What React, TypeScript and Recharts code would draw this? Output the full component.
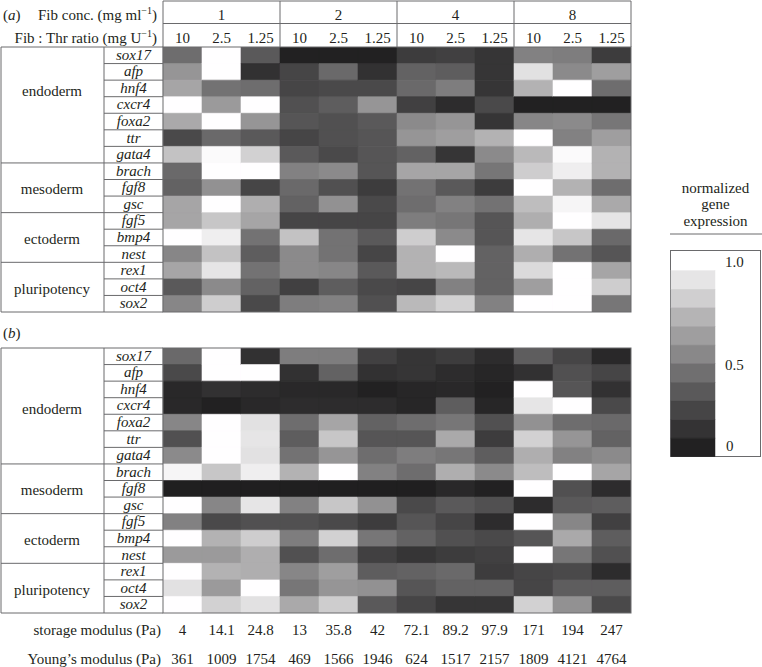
import { BarChart, Bar, XAxis, YAxis, Cell } from 'recharts';

const genes = ['sox17', 'afp', 'hnf4', 'cxcr4', 'foxa2', 'ttr', 'gata4', 'brach', 'fgf8', 'gsc', 'fgf5', 'bmp4', 'nest', 'rex1', 'oct4', 'sox2'];
const groupNames = ['endoderm', 'mesoderm', 'ectoderm', 'pluripotency'];
const groupSizes = [7, 3, 3, 3];
const fibConc = ['1', '2', '4', '8'];
const fibThrRatio = ['10', '2.5', '1.25'];
const storageModulus = ['4', '14.1', '24.8', '13', '35.8', '42', '72.1', '89.2', '97.9', '171', '194', '247'];
const youngsModulus = ['361', '1009', '1754', '469', '1566', '1946', '624', '1517', '2157', '1809', '4121', '4764'];
const legendTicks = ['1.0', '0.5', '0'];
const legendLevels = [0.89, 0.79, 0.67, 0.57, 0.47, 0.36, 0.26, 0.17, 0.09, 0.01];

// normalized gene expression, rows = genes, cols = conc x ratio
const exprA = [
    [0.35, 1, 0.26, 0.01, 0.01, 0.01, 0.13, 0.15, 0.1, 0.44, 0.42, 0.13],
    [0.53, 1, 0.08, 0.17, 0.33, 0.08, 0.3, 0.28, 0.1, 0.87, 0.48, 0.57],
    [0.6, 0.37, 0.35, 0.17, 0.19, 0.19, 0.33, 0.42, 0.1, 0.66, 1, 0.35],
    [1, 0.55, 1, 0.22, 0.28, 0.53, 0.15, 0.06, 0.19, 0.01, 0.01, 0.01],
    [0.62, 1, 0.53, 0.24, 0.22, 0.26, 0.48, 0.53, 0.1, 0.46, 0.48, 0.39],
    [0.19, 0.33, 0.26, 0.17, 0.22, 0.24, 0.53, 0.57, 0.66, 1, 0.44, 0.57],
    [0.73, 0.98, 0.8, 0.26, 0.19, 0.24, 0.3, 0.1, 0.48, 0.69, 0.98, 0.66],
    [0.33, 1, 1, 0.44, 0.48, 0.24, 0.6, 0.6, 0.39, 0.78, 0.93, 0.66],
    [0.3, 0.51, 0.17, 0.33, 0.22, 0.13, 0.37, 0.26, 0.13, 1, 0.66, 0.35],
    [0.6, 1, 0.64, 0.3, 0.51, 0.19, 0.35, 0.44, 0.37, 0.71, 0.96, 0.62],
    [0.6, 0.75, 0.6, 0.17, 0.17, 0.17, 0.42, 0.39, 0.24, 0.64, 1, 0.89],
    [1, 0.93, 0.37, 0.73, 0.37, 0.26, 0.78, 0.48, 0.24, 0.89, 0.75, 0.33],
    [0.46, 0.73, 0.28, 0.48, 0.37, 0.17, 0.66, 1, 0.3, 0.64, 0.37, 0.24],
    [0.6, 0.89, 0.37, 0.48, 0.46, 0.26, 0.66, 0.69, 0.3, 0.84, 1, 0.6],
    [0.26, 0.48, 0.3, 0.15, 0.28, 0.19, 0.17, 0.44, 0.3, 0.57, 1, 0.78],
    [0.46, 0.78, 0.19, 0.42, 0.44, 0.22, 0.69, 0.8, 0.44, 1, 1, 0.39],
];

const exprB = [
    [0.33, 1, 0.08, 0.42, 0.42, 0.15, 0.1, 0.13, 0.06, 0.28, 0.17, 0.04],
    [0.19, 1, 1, 0.08, 0.3, 0.08, 0.1, 0.06, 0.03, 0.08, 0.22, 0.17],
    [0.04, 0.08, 0.06, 0.04, 0.04, 0.01, 0.03, 0.04, 0.01, 1, 0.24, 0.08],
    [0.04, 0.01, 0.04, 0.06, 0.06, 0.06, 0.03, 0.28, 0.03, 0.89, 1, 0.19],
    [0.46, 1, 0.87, 0.35, 0.6, 0.3, 0.35, 0.39, 0.22, 0.51, 0.35, 0.33],
    [0.22, 1, 0.89, 0.28, 0.75, 0.24, 0.24, 0.62, 0.13, 0.8, 0.53, 0.3],
    [0.48, 1, 0.87, 0.37, 0.53, 0.35, 0.42, 0.39, 0.28, 0.64, 0.44, 0.48],
    [0.96, 0.75, 0.93, 0.66, 1, 0.44, 0.35, 0.64, 0.48, 0.71, 1, 0.6],
    [0, 0, 0, 0, 0, 0, 0, 0.04, 0.01, 1, 0.22, 0.06],
    [1, 0.46, 0.89, 0.44, 0.75, 0.51, 0.19, 0.26, 0.22, 0.06, 0.26, 0.28],
    [0.44, 0.19, 0.22, 0.22, 0.19, 0.13, 0.24, 0.17, 0.06, 1, 0.46, 0.15],
    [1, 0.66, 0.78, 0.42, 0.8, 0.39, 0.3, 0.22, 0.19, 0.24, 0.62, 0.28],
    [0.55, 0.55, 0.64, 0.22, 0.35, 0.15, 0.1, 0.13, 0.15, 1, 0.39, 0.22],
    [1, 0.66, 0.64, 0.46, 0.57, 0.28, 0.3, 0.33, 0.13, 0.17, 0.19, 0.06],
    [0.87, 0.55, 1, 0.39, 0.53, 0.51, 0.24, 0.3, 0.3, 0.17, 0.28, 0.28],
    [1, 0.8, 0.87, 0.62, 0.78, 0.26, 0.17, 0.1, 0.1, 0.8, 0.51, 0.19],
];

const FONT = '"Liberation Serif", "Times New Roman", "DejaVu Serif", serif';
const INK = '#231f20';
const LINE = '#6a6a6c';

const LEFT = 104; // label column start
const GENE_W = 59;
const MAP_X = LEFT + GENE_W; // 163
const MAP_W = 468;
const MAP_H = 265;
const TOP_A = 47;
const TOP_B = 348;
const COL_W = MAP_W / 12;
const ROW_H = MAP_H / genes.length;

const columns = fibConc.flatMap((c) => fibThrRatio.map((r) => `${c}-${r}`));

const shade = (v: number) => {
    const g = Math.round(32 + v * 223);
    return `rgb(${g},${g - 1},${g})`;
};

const GeneTick = ({ y, payload }: any) => (
    <text x={GENE_W / 2} y={y} dy={4.5} textAnchor="middle" fontStyle="italic" fontSize={15} fontFamily={FONT} fill={INK}>
        {payload.value}
    </text>
);

function Heatmap({ values, top }: { values: number[][]; top: number }) {
    const rows = genes.map((g) => {
        const row: Record<string, any> = { gene: g };
        columns.forEach((_, c) => (row['c' + c] = 1));
        return row;
    });
    return (
        <div style={{ position: 'absolute', left: LEFT, top }}>
            <BarChart
                layout="vertical"
                width={GENE_W + MAP_W}
                height={MAP_H}
                data={rows}
                margin={{ top: 0, right: 0, bottom: 0, left: 0 }}
                barCategoryGap={0}
                barGap={0}
            >
                <XAxis type="number" domain={[0, columns.length]} hide />
                <YAxis type="category" dataKey="gene" width={GENE_W} axisLine={false} tickLine={false} interval={0} tick={<GeneTick />} />
                {columns.map((_, c) => (
                    <Bar key={c} dataKey={'c' + c} stackId="s" isAnimationActive={false}>
                        {values.map((row, r) => (
                            <Cell key={r} fill={shade(row[c])} stroke={shade(row[c])} strokeWidth={0.6} />
                        ))}
                    </Bar>
                ))}
            </BarChart>
        </div>
    );
}

function LabelTable({ top, labelY }: { top: number; labelY: number[] }) {
    const lines = [];
    let start = 0;
    groupSizes.forEach((n, gi) => {
        for (let i = 1; i <= n; i++) {
            const y = top + (start + i) * ROW_H;
            const isGroupEnd = i === n;
            lines.push(<line key={`${gi}-${i}`} x1={isGroupEnd ? 1 : LEFT} x2={MAP_X} y1={y} y2={y} stroke={LINE} strokeWidth={1} />);
        }
        start += n;
    });
    return (
        <g>
            <line x1={1} x2={MAP_X} y1={top} y2={top} stroke={LINE} />
            <line x1={1} x2={1} y1={top} y2={top + MAP_H} stroke={LINE} />
            <line x1={LEFT} x2={LEFT} y1={top} y2={top + MAP_H} stroke={LINE} />
            <rect x={MAP_X} y={top} width={MAP_W} height={MAP_H} fill="none" stroke={LINE} />
            {lines}
            {groupNames.map((g, i) => (
                <text key={g} x={52} y={labelY[i]} textAnchor="middle" fontSize={15} fill={INK}>
                    {g}
                </text>
            ))}
        </g>
    );
}

export default function App() {
    const colX = (i: number) => MAP_X + (i + 0.5) * COL_W;
    return (
        <div style={{ position: 'relative', width: 762, height: 667, background: '#fff', fontFamily: FONT }}>
            <style>{'body{margin:0}'}</style>
            <Heatmap values={exprA} top={TOP_A} />
            <Heatmap values={exprB} top={TOP_B} />
            <svg width={762} height={667} style={{ position: 'absolute', left: 0, top: 0, pointerEvents: 'none' }} fontFamily={FONT}>
                {/* header table */}
                <line x1={MAP_X} x2={MAP_X + MAP_W} y1={1} y2={1} stroke={LINE} />
                <line x1={MAP_X} x2={MAP_X + MAP_W} y1={23.5} y2={23.5} stroke={LINE} />
                {[0, 1, 2, 3, 4].map((i) => (
                    <line key={i} x1={MAP_X + i * 3 * COL_W} x2={MAP_X + i * 3 * COL_W} y1={1} y2={TOP_A} stroke={LINE} />
                ))}
                <text x={3} y={20} fontSize={15} fill={INK}>
                    (<tspan fontStyle="italic">a</tspan>)
                </text>
                <text x={157} y={20} textAnchor="end" fontSize={15} fill={INK}>
                    Fib conc. (mg ml<tspan dy={-6} fontSize={10}>−1</tspan>
                    <tspan dy={6}>)</tspan>
                </text>
                <text x={157} y={43} textAnchor="end" fontSize={15} fill={INK}>
                    Fib : Thr ratio (mg U<tspan dy={-6} fontSize={10}>−1</tspan>
                    <tspan dy={6}>)</tspan>
                </text>
                {fibConc.map((c, i) => (
                    <text key={c} x={MAP_X + (i * 3 + 1.5) * COL_W} y={20} textAnchor="middle" fontSize={15} fill={INK}>
                        {c}
                    </text>
                ))}
                {columns.map((_, i) => (
                    <text key={i} x={colX(i)} y={43} textAnchor="middle" fontSize={15} fill={INK}>
                        {fibThrRatio[i % 3]}
                    </text>
                ))}

                <LabelTable top={TOP_A} labelY={[96, 194, 244, 294]} />

                <text x={3} y={338} fontSize={15} fill={INK}>
                    (<tspan fontStyle="italic">b</tspan>)
                </text>
                <LabelTable top={TOP_B} labelY={[414, 495, 545, 595]} />

                {/* moduli */}
                <text x={161} y={635} textAnchor="end" fontSize={15} fill={INK}>storage modulus (Pa)</text>
                <text x={161} y={664} textAnchor="end" fontSize={15} fill={INK}>Young’s modulus (Pa)</text>
                {storageModulus.map((v, i) => (
                    <text key={'s' + i} x={colX(i)} y={635} textAnchor="middle" fontSize={15} fill={INK}>{v}</text>
                ))}
                {youngsModulus.map((v, i) => (
                    <text key={'y' + i} x={colX(i)} y={664} textAnchor="middle" fontSize={15} fill={INK}>{v}</text>
                ))}

                {/* legend */}
                <text x={715.5} y={193} textAnchor="middle" fontSize={15} fill={INK}>normalized</text>
                <text x={715.5} y={209} textAnchor="middle" fontSize={15} fill={INK}>gene</text>
                <text x={715.5} y={226} textAnchor="middle" fontSize={15} fill={INK}>expression</text>
                <line x1={670} x2={762} y1={234} y2={234} stroke={LINE} />
                <rect x={670.5} y={250.5} width={90} height={206} fill="none" stroke={LINE} />
                {legendLevels.map((v, i) => (
                    <rect key={i} x={671} y={270.7 + i * 18.6} width={44} height={18.6} fill={shade(v)} stroke={shade(v)} strokeWidth={0.5} />
                ))}
                <text x={725} y={267} fontSize={15} fill={INK}>{legendTicks[0]}</text>
                <text x={725} y={370} fontSize={15} fill={INK}>{legendTicks[1]}</text>
                <text x={726} y={451} fontSize={15} fill={INK}>{legendTicks[2]}</text>
            </svg>
        </div>
    );
}
